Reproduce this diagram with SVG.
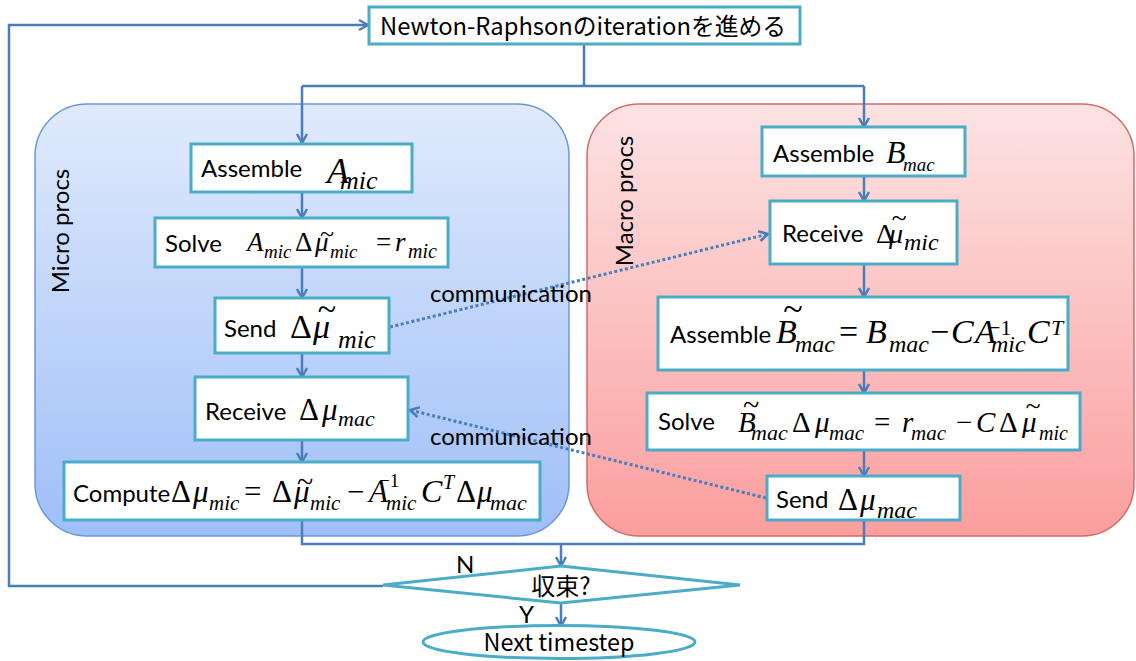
<svg xmlns="http://www.w3.org/2000/svg" width="1136" height="661" viewBox="0 0 1136 661">
  <defs>
    <linearGradient id="gMicro" x1="0" y1="0" x2="0" y2="1">
      <stop offset="0" stop-color="#e0eafc"/>
      <stop offset="1" stop-color="#9fbff8"/>
    </linearGradient>
    <linearGradient id="gMacro" x1="0" y1="0" x2="0" y2="1">
      <stop offset="0" stop-color="#fde3e3"/>
      <stop offset="1" stop-color="#fb9e9e"/>
    </linearGradient>
    <marker id="arr" markerUnits="userSpaceOnUse" markerWidth="14" markerHeight="14" viewBox="0 0 14 14" refX="12" refY="7" orient="auto">
      <path d="M3,2 L12,7 L3,12" fill="none" stroke="#4a7ebb" stroke-width="2.5"/>
    </marker>
    <style>
      .conn { fill: none; stroke: #4a7ebb; stroke-width: 2.5; }
      .dot { fill: none; stroke: #4a7ebb; stroke-width: 3; stroke-dasharray: 3 2.5; }
      .box { fill: #ffffff; stroke: #4bacc6; stroke-width: 3; }
      .lbl { font-family: Lato, "Liberation Sans", sans-serif; font-size: 24px; fill: #000; }
      .jp { font-family: "Noto Sans CJK JP", "Noto Sans", sans-serif; font-size: 24px; fill: #000; }
      .m { font-family: "Liberation Serif", serif; font-style: italic; fill: #000; }
      .u { font-family: "Liberation Serif", serif; fill: #000; }
    </style>
  </defs>

  <!-- process panels -->
  <g id="panel-micro">
    <rect x="35" y="104" width="534" height="432" rx="52" fill="url(#gMicro)" stroke="#6b98d8" stroke-width="1.5"/>
    <text class="lbl" transform="translate(69,231) rotate(-90)" text-anchor="middle">Micro procs</text>
  </g>
  <g id="panel-macro">
    <rect x="587" y="104" width="547" height="432" rx="52" fill="url(#gMacro)" stroke="#d46a6a" stroke-width="1.5"/>
    <text class="lbl" transform="translate(633,201) rotate(-90)" text-anchor="middle" font-size="25">Macro procs</text>
  </g>

  <!-- connectors -->
  <g id="connectors">
    <path class="conn" d="M584,45 V86 M302,86 H864"/>
    <path class="conn" marker-end="url(#arr)" d="M302,86 V143"/>
    <path class="conn" marker-end="url(#arr)" d="M864,86 V127"/>
    <path class="conn" marker-end="url(#arr)" d="M302,192 V218"/>
    <path class="conn" marker-end="url(#arr)" d="M302,267 V298"/>
    <path class="conn" marker-end="url(#arr)" d="M302,353 V377"/>
    <path class="conn" marker-end="url(#arr)" d="M302,440 V462"/>
    <path class="conn" marker-end="url(#arr)" d="M864,176 V201"/>
    <path class="conn" marker-end="url(#arr)" d="M864,264 V297"/>
    <path class="conn" marker-end="url(#arr)" d="M864,370 V393"/>
    <path class="conn" marker-end="url(#arr)" d="M864,450 V476"/>
    <path class="conn" d="M302,520 V544 H864 V521"/>
    <path class="conn" marker-end="url(#arr)" d="M561,544 V566"/>
    <path class="conn" marker-end="url(#arr)" d="M561,603 V626"/>
    <path class="conn" marker-end="url(#arr)" d="M383,586 H9 V25 H368"/>
    <path class="dot" marker-end="url(#arr)" d="M390,327 L768,234"/>
    <path class="dot" marker-end="url(#arr)" d="M766,498 L410,410"/>
    <text class="lbl" x="430" y="302" font-size="25">communication</text>
    <text class="lbl" x="430" y="445" font-size="25">communication</text>
    <text class="lbl" x="456" y="573" font-size="22">N</text>
    <text class="lbl" x="519" y="623" font-size="22">Y</text>
  </g>

  <!-- top step -->
  <g id="n-newton">
    <rect class="box" x="369" y="7" width="431" height="37"/>
    <text class="jp" x="380" y="35" textLength="406" lengthAdjust="spacingAndGlyphs">Newton-Raphsonのiterationを進める</text>
  </g>

  <!-- micro side -->
  <g id="n-assemble-a">
    <rect class="box" x="191" y="144" width="221" height="48"/>
    <text class="lbl" x="201" y="177">Assemble</text>
    <text class="m" x="327" y="183" font-size="36">A</text>
    <text class="m" x="340" y="189" font-size="26">mic</text>
  </g>

  <g id="n-solve-mic">
    <rect class="box" x="155" y="218" width="293" height="49"/>
    <text class="lbl" x="165" y="252">Solve</text>
    <text class="m" x="247" y="251" font-size="27">A</text>
    <text class="m" x="264" y="258" font-size="19">mic</text>
    <text class="u" x="295" y="251" font-size="27">Δ</text>
    <text class="m" x="315" y="251" font-size="27">μ</text>
    <text class="u" x="327" y="242" font-size="26" text-anchor="middle">~</text>
    <text class="m" x="330" y="258" font-size="19">mic</text>
    <text class="u" x="376" y="251" font-size="27">=</text>
    <text class="m" x="395" y="251" font-size="27">r</text>
    <text class="m" x="408" y="258" font-size="20">mic</text>
  </g>

  <g id="n-send-mic">
    <rect class="box" x="215" y="298" width="174" height="55"/>
    <text class="lbl" x="224" y="337">Send</text>
    <text class="u" x="290" y="338" font-size="34">Δ</text>
    <text class="m" x="313" y="338" font-size="34">μ</text>
    <text class="u" x="327" y="320" font-size="34" text-anchor="middle">~</text>
    <text class="m" x="338" y="348" font-size="26">mic</text>
  </g>

  <g id="n-receive-mic">
    <rect class="box" x="195" y="377" width="213" height="63"/>
    <text class="lbl" x="205" y="420">Receive</text>
    <text class="u" x="299" y="420" font-size="31">Δ</text>
    <text class="m" x="322" y="420" font-size="31">μ</text>
    <text class="m" x="338" y="426" font-size="22">mac</text>
  </g>

  <g id="n-compute">
    <rect class="box" x="64" y="462" width="476" height="58"/>
    <text class="lbl" x="73" y="502">Compute</text>
    <text class="u" x="171" y="502" font-size="31">Δ</text>
    <text class="m" x="193" y="502" font-size="31">μ</text>
    <text class="m" x="209" y="510" font-size="21">mic</text>
    <text class="u" x="244" y="502" font-size="31">=</text>
    <text class="u" x="272" y="502" font-size="31">Δ</text>
    <text class="m" x="294" y="502" font-size="31">μ</text>
    <text class="u" x="305" y="492" font-size="30" text-anchor="middle">~</text>
    <text class="m" x="310" y="510" font-size="21">mic</text>
    <text class="u" x="347" y="502" font-size="31">−</text>
    <text class="m" x="369" y="502" font-size="31">A</text>
    <text class="u" x="379" y="487" font-size="19">−1</text>
    <text class="m" x="386" y="510" font-size="21">mic</text>
    <text class="m" x="421" y="502" font-size="32">C</text>
    <text class="m" x="443" y="489" font-size="20">T</text>
    <text class="u" x="456" y="502" font-size="31">Δ</text>
    <text class="m" x="477" y="502" font-size="31">μ</text>
    <text class="m" x="490" y="510" font-size="22">mac</text>
  </g>

  <!-- macro side -->
  <g id="n-assemble-b">
    <rect class="box" x="762" y="127" width="203" height="49"/>
    <text class="lbl" x="773" y="162" font-size="22">Assemble</text>
    <text class="m" x="886" y="163" font-size="32">B</text>
    <text class="m" x="903" y="171" font-size="19">mac</text>
  </g>

  <g id="n-receive-mac">
    <rect class="box" x="770" y="201" width="187" height="63"/>
    <text class="lbl" x="782" y="242" font-size="23">Receive</text>
    <text class="u" x="876" y="243" font-size="28">Δ</text>
    <text class="m" x="889" y="243" font-size="28">μ</text>
    <text class="u" x="899" y="227" font-size="28" text-anchor="middle">~</text>
    <text class="m" x="904" y="250" font-size="24">mic</text>
  </g>

  <g id="n-assemble-bt">
    <rect class="box" x="658" y="297" width="410" height="73"/>
    <text class="lbl" x="670" y="343">Assemble</text>
    <text class="m" x="776" y="343" font-size="34">B</text>
    <text class="u" x="793" y="321" font-size="36" text-anchor="middle">~</text>
    <text class="m" x="795" y="352" font-size="24">mac</text>
    <text class="u" x="839" y="343" font-size="34">=</text>
    <text class="m" x="866" y="343" font-size="34">B</text>
    <text class="m" x="889" y="352" font-size="24">mac</text>
    <text class="u" x="930" y="343" font-size="34">−</text>
    <text class="m" x="951" y="343" font-size="34">C</text>
    <text class="m" x="975" y="343" font-size="34">A</text>
    <text class="u" x="988" y="335" font-size="22">−1</text>
    <text class="m" x="991" y="352" font-size="24">mic</text>
    <text class="m" x="1027" y="343" font-size="34">C</text>
    <text class="m" x="1051" y="335" font-size="22">T</text>
  </g>

  <g id="n-solve-mac">
    <rect class="box" x="647" y="393" width="433" height="57"/>
    <text class="lbl" x="658" y="430" font-size="23">Solve</text>
    <text class="m" x="738" y="432" font-size="29">B</text>
    <text class="u" x="751" y="415" font-size="30" text-anchor="middle">~</text>
    <text class="m" x="751" y="440" font-size="22">mac</text>
    <text class="u" x="792" y="432" font-size="29">Δ</text>
    <text class="m" x="815" y="432" font-size="29">μ</text>
    <text class="m" x="829" y="440" font-size="21">mac</text>
    <text class="u" x="874" y="432" font-size="29">=</text>
    <text class="m" x="902" y="432" font-size="29">r</text>
    <text class="m" x="911" y="440" font-size="21">mac</text>
    <text class="u" x="956" y="432" font-size="29">−</text>
    <text class="m" x="976" y="432" font-size="29">C</text>
    <text class="u" x="999" y="432" font-size="29">Δ</text>
    <text class="m" x="1022" y="432" font-size="29">μ</text>
    <text class="u" x="1033" y="415" font-size="28" text-anchor="middle">~</text>
    <text class="m" x="1039" y="440" font-size="20">mic</text>
  </g>

  <g id="n-send-mac">
    <rect class="box" x="767" y="476" width="193" height="44"/>
    <text class="lbl" x="776" y="508" font-size="23">Send</text>
    <text class="u" x="838" y="510" font-size="31">Δ</text>
    <text class="m" x="860" y="510" font-size="31">μ</text>
    <text class="m" x="877" y="518" font-size="24">mac</text>
  </g>

  <!-- convergence check -->
  <g id="n-converged">
    <polygon class="box" points="383,585 561,566 740,585 561,603"/>
    <text class="jp" x="561" y="595" text-anchor="middle">収束?</text>
  </g>

  <g id="n-next">
    <ellipse class="box" cx="559" cy="642" rx="136" ry="16.5"/>
    <text class="jp" x="559" y="651" text-anchor="middle" textLength="151" lengthAdjust="spacingAndGlyphs">Next timestep</text>
  </g>
</svg>
